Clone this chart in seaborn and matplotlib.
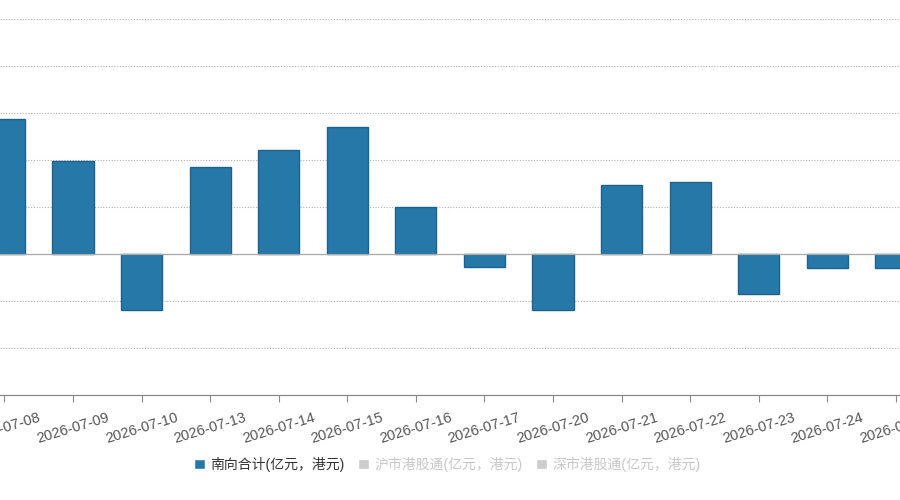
import matplotlib
matplotlib.use('Agg')
import matplotlib.pyplot as plt
import seaborn as sns
import pandas as pd
from matplotlib.patches import Patch

# 数据（亿港元）
dates = ['2026-07-08', '2026-07-09', '2026-07-10', '2026-07-13', '2026-07-14',
         '2026-07-15', '2026-07-16', '2026-07-17', '2026-07-20', '2026-07-21',
         '2026-07-22', '2026-07-23', '2026-07-24', '2026-07-27']
south_total = [143, 99, -60, 92, 110, 135, 50, -14, -60, 73, 76, -43, -15, -15]
legend_labels = ['南向合计(亿元，港元)', '沪市港股通(亿元，港元)', '深市港股通(亿元，港元)']

df = pd.DataFrame({'date': dates, 'value': south_total})

sns.set_theme(style='white')
plt.rcParams['font.family'] = ['Liberation Sans', 'Noto Sans CJK SC', 'DejaVu Sans']

fig = plt.figure(figsize=(9, 5), dpi=100)
ax = fig.add_axes([0.0, 0.21, 1.0, 0.79])

sns.barplot(data=df, x='date', y='value', color='#2678a9', width=0.6,
            edgecolor='#1d628d', linewidth=1.0, saturation=1, ax=ax)

ax.set_xlim(-0.064, 13.06)
ax.set_ylim(-150, 270)
ax.set_yticks([-100, -50, 0, 50, 100, 150, 200, 250])
ax.yaxis.grid(True, linestyle=(0, (1, 1.5)), color='#b0b0b0', linewidth=0.8)
ax.axhline(0, color='#aaaaaa', linewidth=0.9, zorder=1)
ax.set_axisbelow(True)
ax.tick_params(axis='y', left=False, labelleft=False)

for s in ['top', 'right', 'left']:
    ax.spines[s].set_visible(False)
ax.spines['bottom'].set_color('#888888')
ax.spines['bottom'].set_linewidth(0.9)

ax.tick_params(axis='x', bottom=True, length=5, width=0.8, color='#888888',
               labelsize=10.5, labelcolor='#555555', pad=6)
plt.setp(ax.get_xticklabels(), rotation=17, ha='center', va='top',
         rotation_mode='default')
ax.set_xlabel('')
ax.set_ylabel('')

handles = [Patch(facecolor='#2678a9'), Patch(facecolor='#cccccc'),
           Patch(facecolor='#cccccc')]
leg = fig.legend(handles, legend_labels, loc='center', bbox_to_anchor=(0.497, 0.072),
                 ncol=3, frameon=False, fontsize=10, handlelength=0.75,
                 handleheight=0.75, handletextpad=0.4, columnspacing=1.0)
for t, c in zip(leg.get_texts(), ['#333333', '#c8c8c8', '#c8c8c8']):
    t.set_color(c)

fig.savefig('out.png', dpi=100)
